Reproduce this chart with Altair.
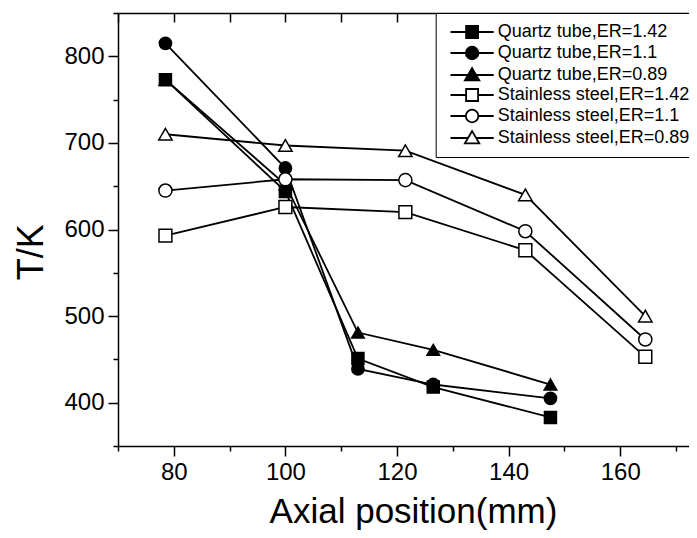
import altair as alt
import pandas as pd

series_names = [
    "Quartz tube,ER=1.42", "Quartz tube,ER=1.1", "Quartz tube,ER=0.89",
    "Stainless steel,ER=1.42", "Stainless steel,ER=1.1", "Stainless steel,ER=0.89",
]
quartz_x = [78.5, 100, 113, 126.5, 147.5]
steel_x = [78.5, 100, 121.5, 143, 164.5]
q142 = [773, 644, 451, 418, 383]
q110 = [815, 671, 439, 421, 405]
q089 = [773, 652, 481, 461, 421]
s142 = [593, 626, 620, 576, 453]
s110 = [645, 658, 657, 598, 473]
s089 = [710, 697, 691, 640, 500]

x_ticks = [70, 80, 90, 100, 110, 120, 130, 140, 150, 160, 170]
y_ticks = [350, 400, 450, 500, 550, 600, 650, 700, 750, 800, 850]

plot_shapes = ["square", "circle", "triangle-up", "square", "circle", "triangle-up"]
fills = ["black", "black", "black", "white", "white", "white"]
strokes = ["black"] * 6
sizes = [144, 180, 240, 144, 180, 240]
legend_paths = [
    "M-3.6,0H-1M1,0H3.6M-1,-1H1V1H-1Z",
    "M-3.6,0H-1.05M1.05,0H3.6M1.05,0A1.05,1.05 0 1,0 -1.05,0A1.05,1.05 0 1,0 1.05,0Z",
    "M-3.6,0H-0.62M0.62,0H3.6M0,-1.15L1.2,0.9H-1.2Z",
    "M-3.6,0H-1M1,0H3.6M-1,-1H1V1H-1Z",
    "M-3.6,0H-1.05M1.05,0H3.6M1.05,0A1.05,1.05 0 1,0 -1.05,0A1.05,1.05 0 1,0 1.05,0Z",
    "M-3.6,0H-0.62M0.62,0H3.6M0,-1.15L1.2,0.9H-1.2Z",
]

# drawing order: triangles under squares, as in the reference
draw_order = [2, 0, 1, 5, 3, 4]
all_x = [quartz_x, quartz_x, quartz_x, steel_x, steel_x, steel_x]
all_y = [q142, q110, q089, s142, s110, s089]
rows = []
for i in draw_order:
    for a, b in zip(all_x[i], all_y[i]):
        rows.append({"series": series_names[i], "x": a, "y": b})
df = pd.DataFrame(rows)

FONT = "Liberation Sans"
xs = alt.Scale(domain=[70, 172.33], nice=False, zero=False)
ys = alt.Scale(domain=[350, 850], nice=False, zero=False)

x_bottom = alt.Axis(
    values=x_ticks, orient="bottom",
    labelExpr="datum.value % 20 == 0 ? datum.label : ''",
    tickSize={"condition": {"test": "datum.value % 20 == 0", "value": 10}, "value": 5},
    labelFontSize=24, labelPadding=4, labelFlush=False,
    title="Axial position(mm)", titleFontSize=35, titleX=295, titleY=76,
    titleBaseline="alphabetic", titleAlign="center",
)
x_top_ticks = alt.Axis(
    values=x_ticks, orient="top", domain=False, labels=False, title=None,
    tickSize=9, offset=-9,
)
x_top_line = alt.Axis(
    orient="top", domain=True, ticks=False, labels=False, title=None,
)
y_axis = alt.Axis(
    values=y_ticks,
    labelExpr="datum.value % 100 == 0 ? datum.label : ''",
    tickSize={"condition": {"test": "datum.value % 100 == 0", "value": 10}, "value": 5},
    labelFontSize=24, labelPadding=4, labelFlush=False,
    title="T/K", titleFontSize=36, titleAngle=270, titleX=-76, titleY=238.7,
    titleBaseline="alphabetic", titleAlign="center",
)

leg = alt.Legend(
    orient="none", legendX=317.7, legendY=0, title=None,
    labelFont=FONT, labelFontSize=18, labelColor="black", labelLimit=400,
    symbolSize=144, symbolStrokeWidth=1.8, symbolStrokeColor="black", symbolOpacity=1,
    symbolOffset=17.4, labelOffset=16.6, padding=10, rowPadding=1,
    strokeColor="black", fillColor="white",
)

lines = alt.Chart(df).mark_line(color="black", strokeWidth=1.8).encode(
    x=alt.X("x:Q", scale=xs, axis=x_bottom),
    y=alt.Y("y:Q", scale=ys, axis=y_axis),
    detail="series:N",
)

points = alt.Chart(df).mark_point(opacity=1, stroke="black", strokeWidth=1.5).encode(
    x=alt.X("x:Q", scale=xs, axis=x_top_ticks),
    y=alt.Y("y:Q", scale=ys),
    shape=alt.Shape("series:N", scale=alt.Scale(domain=series_names, range=plot_shapes), legend=None),
    fill=alt.Fill("series:N", scale=alt.Scale(domain=series_names, range=fills), legend=None),
    size=alt.Size("series:N", scale=alt.Scale(domain=series_names, range=sizes), legend=None),
)

legend_layer = alt.Chart(df).transform_filter("false").mark_point(
    opacity=1, strokeWidth=1.8
).encode(
    x=alt.X("x:Q", scale=xs, axis=x_top_line),
    y=alt.Y("y:Q", scale=ys),
    shape=alt.Shape("series:N", scale=alt.Scale(domain=series_names, range=legend_paths), legend=leg),
    fill=alt.Fill("series:N", scale=alt.Scale(domain=series_names, range=fills), legend=leg),
    stroke=alt.Stroke("series:N", scale=alt.Scale(domain=series_names, range=strokes), legend=leg),
)

chart = alt.layer(lines, points, legend_layer).resolve_scale(
    shape="independent", fill="independent", stroke="independent"
).resolve_axis(x="independent").resolve_legend(
    shape="independent", fill="independent", stroke="independent"
).properties(
    width=571, height=433,
    padding={"left": 110, "top": 5, "right": 0, "bottom": 84},
    autosize=alt.AutoSizeParams(type="none"),
).configure_view(stroke=None).configure_axis(
    domainColor="black", domainWidth=1.5, tickColor="black", tickWidth=1.5,
    labelColor="black", titleColor="black", grid=False,
    labelFont=FONT, titleFont=FONT, titleFontWeight="normal",
)

chart.save("out.html", embed_options={"renderer": "svg", "actions": False})
